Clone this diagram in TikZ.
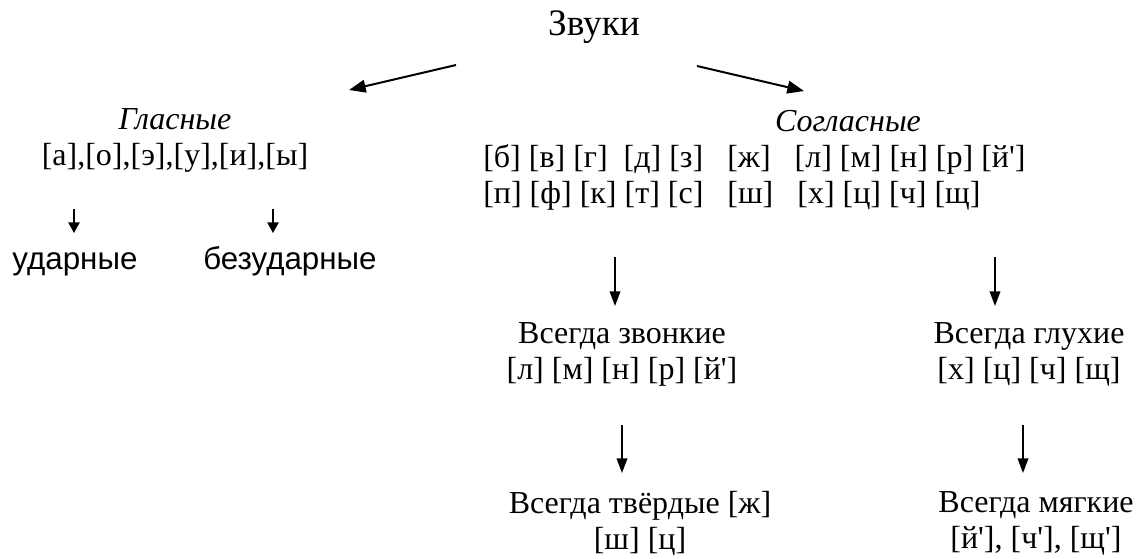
\documentclass[tikz,border=0pt]{standalone}
\usepackage{fontspec}
\setmainfont{Liberation Serif}[Ligatures=TeXOff]
\newfontfamily\arialfont{Liberation Sans}[Ligatures=TeXOff]
\usetikzlibrary{arrows.meta}
\begin{document}
\begin{tikzpicture}[x=0.75pt,y=-0.75pt,
  txt/.style={inner sep=0pt,align=center,font=\fontsize{24}{27}\selectfont},
  title/.style={inner sep=0pt,font=\fontsize{28}{31}\selectfont},
  sans/.style={inner sep=0pt,anchor=base,font=\arialfont\fontsize{23.5}{27}\selectfont},
  bigarrow/.style={line width=1.5pt,-{Triangle[length=12.5pt,width=9.5pt]}},
  downarrow/.style={line width=1.1pt,-{Triangle[length=11pt,width=8pt]}},
  smallarrow/.style={line width=1.1pt,-{Triangle[length=8pt,width=8.5pt]}}]
\useasboundingbox (0,0) rectangle (1136,558);
% nodes
\node[title] (zv) at (594,27) {Звуки};
\node[txt] (gl) at (175,140) {\itshape Гласные\\{}[а],[о],[э],[у],[и],[ы]};
\node[txt] (sog) at (848,121) {\itshape Согласные};
\node[txt,anchor=west,align=left] (cons) at (483,177)
  {[б] [в] [г]\ \ [д] [з]\ \ \ [ж]\ \ \ [л] [м] [н] [р] [й']\\{}[п] [ф] [к] [т] [с]\ \ \ [ш]\ \ \ [х] [ц] [ч] [щ]};
\node[sans] (udar) at (75,269) {ударные};
\node[sans] (bezud) at (290,269) {безударные};
\node[txt] (zvon) at (622,354) {Всегда звонкие\\{}[л] [м] [н] [р] [й']};
\node[txt] (gluh) at (1029,354) {Всегда глухие\\{}[х] [ц] [ч] [щ]};
\node[txt] (tverd) at (640,523) {Всегда твёрдые [ж]\\{}[ш] [ц]};
\node[txt] (myag) at (1036,523) {Всегда мягкие\\{}[й'], [ч'], [щ']};
% connector ends
\coordinate (a1s) at (456,65);  \coordinate (a1e) at (349,90);
\coordinate (a2s) at (697,66);  \coordinate (a2e) at (804,91);
\coordinate (a3s) at (74,209);  \coordinate (a3e) at (74,233);
\coordinate (a4s) at (273,209); \coordinate (a4e) at (273,233);
\coordinate (a5s) at (615,257); \coordinate (a5e) at (615,306);
\coordinate (a6s) at (995,257); \coordinate (a6e) at (995,306);
\coordinate (a7s) at (622,425); \coordinate (a7e) at (622,473);
\coordinate (a8s) at (1023,425);\coordinate (a8e) at (1023,473);
% connectors
\draw[bigarrow] (a1s) -- (a1e);
\draw[bigarrow] (a2s) -- (a2e);
\draw[smallarrow] (a3s) -- (a3e);
\draw[smallarrow] (a4s) -- (a4e);
\draw[downarrow] (a5s) -- (a5e);
\draw[downarrow] (a6s) -- (a6e);
\draw[downarrow] (a7s) -- (a7e);
\draw[downarrow] (a8s) -- (a8e);
\end{tikzpicture}
\end{document}
